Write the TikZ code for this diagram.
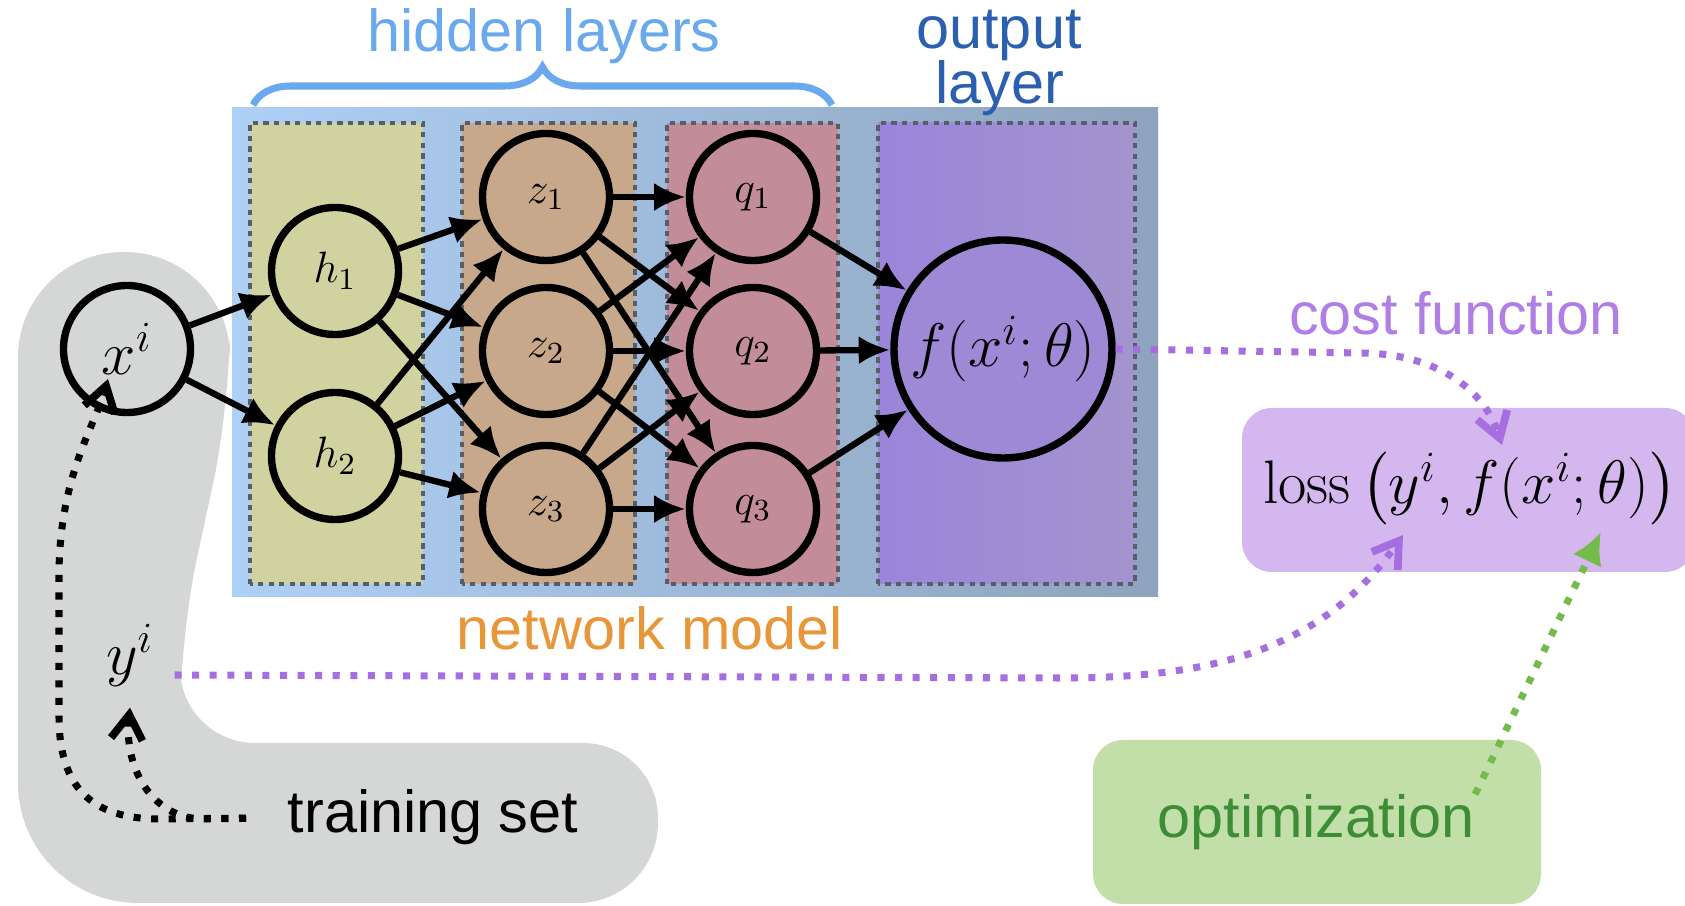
\RequirePackage{fix-cm}
\documentclass[tikz,border=0pt]{standalone}
\usepackage{amsmath}
\usepackage{fontspec}
\setsansfont{Liberation Sans}
\usetikzlibrary{arrows.meta,decorations.pathreplacing}

\definecolor{bgleft}{HTML}{AED0F5}
\definecolor{bgright}{HTML}{8EA3BD}
\definecolor{hcol}{HTML}{D0D3A0}
\definecolor{zcol}{HTML}{C8A88A}
\definecolor{qcol}{HTML}{C28D99}
\definecolor{outleft}{HTML}{9A85DA}
\definecolor{outright}{HTML}{A394CE}
\definecolor{boxdots}{HTML}{555E6A}
\definecolor{blobgray}{HTML}{D5D6D6}
\definecolor{lossfill}{HTML}{D4B7EF}
\definecolor{optfill}{HTML}{C2DFA9}
\definecolor{hidcol}{HTML}{6AA9EE}
\definecolor{outcol}{HTML}{2B60B0}
\definecolor{netcol}{HTML}{E8963A}
\definecolor{costcol}{HTML}{B07FE6}
\definecolor{optcol}{HTML}{3C8D36}
\definecolor{costline}{HTML}{A66FE0}
\definecolor{optline}{HTML}{74BB4C}

\begin{document}
\begin{tikzpicture}[
  neuron/.style={draw, circle, line width=2.1pt, minimum size=1.27cm, inner sep=0pt,
    font=\fontsize{12.5}{15}\selectfont},
  conn/.style={draw, line width=1.8pt, -{Latex[length=9pt,width=8pt]}},
  layerbox/.style={draw=boxdots, line width=1.2pt, dash pattern=on 1.5pt off 1.5pt},
  lbl/.style={font=\sffamily\fontsize{16.9}{20}\selectfont, anchor=base, inner sep=0pt},
  bigmath/.style={font=\fontsize{17.5}{21}\selectfont},
  dotarr/.style={line width=2pt, dash pattern=on 2pt off 3pt,
    -{Straight Barb[length=7pt,width=9pt,line width=2.2pt]}},
]
\useasboundingbox (0,0) rectangle (16.85,9.06);

% training set blob
\fill[blobgray] (0.18,3.0)
  [rounded corners=1.05cm] -- (0.18,6.54) -- (2.30,6.54)
  [rounded corners=0.8cm] -- (2.30,5.0) -- (1.80,2.7)
  [rounded corners=0.75cm] -- (1.80,1.63) -- (6.58,1.63)
  [rounded corners=0.8cm] -- (6.58,0.03)
  [rounded corners=1.2cm] -- (0.18,0.03) -- cycle;

% network model
\shade[left color=bgleft, right color=bgright] (2.32,3.09) rectangle (11.58,7.98);
\fill[hcol] (2.50,3.22) rectangle (4.23,7.83);
\fill[zcol] (4.62,3.22) rectangle (6.35,7.83);
\fill[qcol] (6.67,3.22) rectangle (8.38,7.83);
\shade[left color=outleft, right color=outright] (8.78,3.22) rectangle (11.35,7.83);
\foreach \xa/\xb in {2.50/4.23, 4.62/6.35, 6.67/8.38, 8.78/11.35}
  \draw[layerbox] (\xa,3.22) rectangle (\xb,7.83);

\draw[hidcol, line width=2pt, decorate, decoration={brace, amplitude=0.38cm}]
  (2.53,8.01) -- (8.32,8.01);
\node[lbl, text=hidcol] (hidtxt) at (5.44,8.54) {hidden layers};
\node[lbl, text=outcol] (outtxt) at (9.99,8.57) {output};
\node[lbl, text=outcol] (laytxt) at (10.0,8.02) {layer};
\node[lbl, text=netcol] (nettxt) at (6.50,2.56) {network model};

% loss and optimization
\fill[lossfill, rounded corners=0.3cm] (12.42,3.34) rectangle (16.95,4.98);
\fill[optfill, rounded corners=0.3cm] (10.93,0.02) rectangle (15.41,1.66);
\node[lbl, text=costcol] (costtxt) at (14.56,5.71) {cost function};
\node[lbl, text=optcol] (opttxt) at (13.16,0.68) {optimization};
\node[bigmath, anchor=base, inner sep=0pt] (losstxt) at (14.70,4.02)
  {$\mathrm{loss}\,\bigl(y^i, f(x^i;\theta)\bigr)$};
\node[lbl] (ts) at (4.33,0.73) {training set};

% neurons
\node[neuron, fill=blobgray, bigmath] (xi) at (1.27,5.57) {$x^i$};
\node[neuron, fill=hcol] (h1) at (3.35,6.35) {$h_1$};
\node[neuron, fill=hcol] (h2) at (3.35,4.50) {$h_2$};
\node[neuron, fill=zcol] (z1) at (5.46,7.09) {$z_1$};
\node[neuron, fill=zcol] (z2) at (5.46,5.55) {$z_2$};
\node[neuron, fill=zcol] (z3) at (5.46,3.97) {$z_3$};
\node[neuron, fill=qcol] (q1) at (7.53,7.09) {$q_1$};
\node[neuron, fill=qcol] (q2) at (7.53,5.55) {$q_2$};
\node[neuron, fill=qcol] (q3) at (7.53,3.97) {$q_3$};
\node[neuron, fill=outleft!70!outright, bigmath, minimum size=2.18cm] (f) at (10.03,5.57)
  {$f(x^i;\theta)$};
\node[bigmath, anchor=base, inner sep=0.2cm] (yi) at (1.30,2.31) {$y^i$};

\foreach \a in {1,2} \path[conn] (xi) -- (h\a);
\foreach \a in {1,2} \foreach \b in {1,2,3} \path[conn] (h\a) -- (z\b);
\foreach \a in {1,2,3} \foreach \b in {1,2,3} \path[conn] (z\a) -- (q\b);
\foreach \a in {1,2,3} \path[conn] (q\a) -- (f);

% dotted connectors
\coordinate (costin) at (15.02,4.61);
\coordinate (lossin) at (14.03,3.71);
\coordinate (optin) at (16.01,3.74);
\coordinate (xin) at (1.08,5.27);
\draw[dotarr, costline] (f.east) -- (13.6,5.53) to[out=0,in=108] (costin);
\draw[dotarr, costline] (yi.base east) -- (10.6,2.28) to[out=0,in=235] (lossin);
\draw[dotarr, optline, -{Latex[length=9pt,width=9pt]}] (opttxt.north east) -- (optin);
\draw[dotarr, shorten <=0.41cm] (ts.west) -- (1.6,0.87)
  .. controls (0.9,0.87) and (0.59,1.2) .. (0.59,1.9) -- (0.59,3.3)
  .. controls (0.59,4.3) and (0.95,4.8) .. (xin);
\draw[dotarr, shorten <=0.41cm] (ts.west) -- (2.0,0.87)
  .. controls (1.5,0.9) and (1.24,1.4) .. (yi.south);
\end{tikzpicture}
\end{document}
